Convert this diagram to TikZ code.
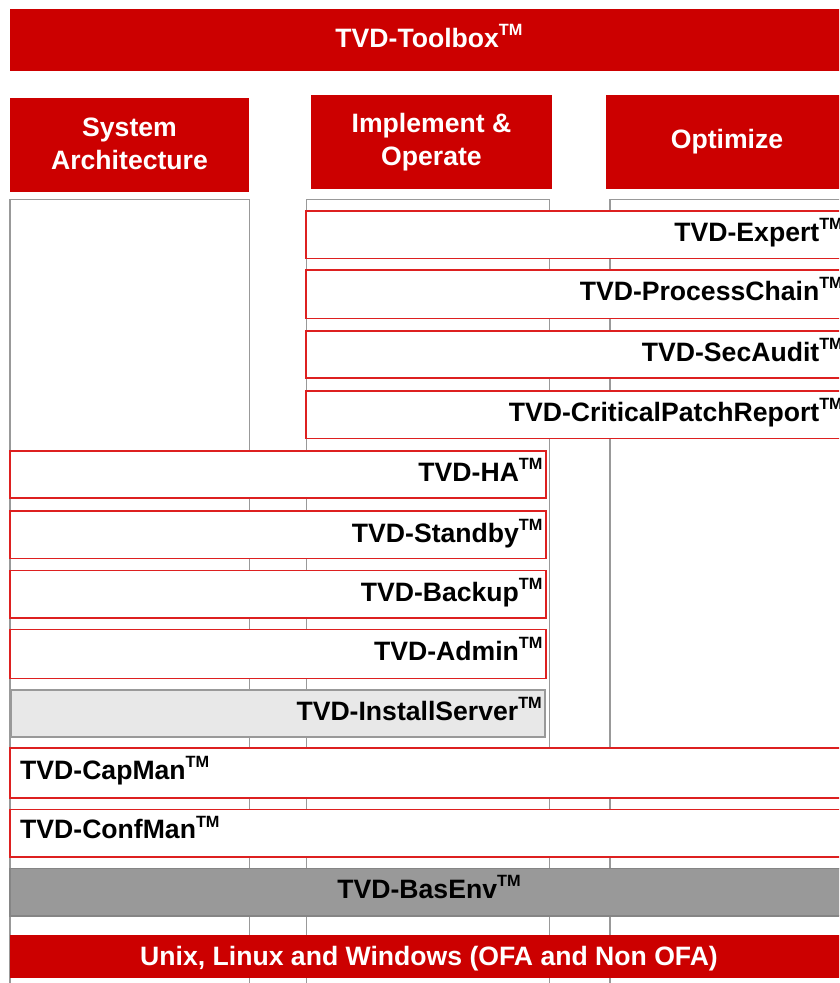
\documentclass[tikz,border=0pt]{standalone}
\usepackage{fontspec}
\setmainfont{Liberation Sans}
\usetikzlibrary{fit}
\definecolor{tvdred}{HTML}{CC0000}
\definecolor{rowred}{HTML}{DD2020}
\definecolor{colgrey}{HTML}{999999}
\definecolor{instfill}{HTML}{E8E8E8}
\definecolor{basfill}{HTML}{999999}
\definecolor{basline}{HTML}{858585}
\newcommand\tmk{\raisebox{11.8pt}{\fontsize{16.3}{16.3}\selectfont TM}}
\tikzset{
  bar/.style={fill=tvdred, draw=none, inner sep=0pt, outer sep=0pt},
  colbox/.style={fill=white, draw=colgrey, line width=1.5pt, inner sep=0pt, outer sep=0pt},
  rowbox/.style={fill=white, draw=rowred, line width=1.6pt, inner sep=0pt, outer sep=0pt},
  instbox/.style={fill=instfill, draw=colgrey, line width=1.6pt, inner sep=0pt, outer sep=0pt},
  basbox/.style={fill=basfill, draw=basline, line width=1.6pt, inner sep=0pt, outer sep=0pt},
  wtxt/.style={text=white, font=\fontsize{26.6}{32.5}\selectfont\bfseries, inner sep=0pt, align=center},
  btxt/.style={text=black, font=\fontsize{26.6}{32.5}\selectfont\bfseries, inner sep=0pt}
}
\begin{document}
\begin{tikzpicture}[x=1pt,y=-1pt]
\useasboundingbox (0,0) rectangle (839,983);
\clip (0,0) rectangle (839,983);
\fill[white] (0,0) rectangle (839,983);
% top bar
\node[bar, fit={(10,9) (848,71)}] (top) {};
\node[wtxt, anchor=base] (topT) at (429,47) {TVD-Toolbox\tmk};
% headers
\node[bar, fit={(10,98) (249,192)}] (hSys) {};
\node[wtxt] (hSysT) at ([yshift=1pt]hSys.center) {System\\Architecture};
\node[bar, fit={(311,95) (552,189)}] (hImp) {};
\node[wtxt] (hImpT) at (hImp.center) {Implement \&\\Operate};
\node[bar, fit={(606,95) (848,189)}] (hOpt) {};
\node[wtxt] (hOptT) at (hOpt.center) {Optimize};
% columns
\node[colbox, fit={(10,199.3) (249.3,1000)}] (col1) {};
\node[colbox, fit={(306.3,199.3) (549.3,1000)}] (col2) {};
\node[colbox, fit={(610,199.3) (845,1000)}] (col3) {};
% right rows
\node[rowbox, fit={(306,211) (846,258.3)}] (expert) {};
\node[btxt, anchor=base east] (expertT) at ([xshift=-3pt,yshift=-30.5pt]expert.north east) {TVD-Expert\tmk};
\node[rowbox, fit={(306,270) (846,318.3)}] (proc) {};
\node[btxt, anchor=base east] (procT) at ([xshift=-3pt,yshift=-30.5pt]proc.north east) {TVD-ProcessChain\tmk};
\node[rowbox, fit={(306,330.7) (846,377.7)}] (sec) {};
\node[btxt, anchor=base east] (secT) at ([xshift=-3pt,yshift=-30.5pt]sec.north east) {TVD-SecAudit\tmk};
\node[rowbox, fit={(306,391) (846,438.3)}] (crit) {};
\node[btxt, anchor=base east] (critT) at ([xshift=-3pt,yshift=-30.5pt]crit.north east) {TVD-CriticalPatchReport\tmk};
% left rows
\node[rowbox, fit={(10,450.7) (545.7,497.7)}] (ha) {};
\node[btxt, anchor=base east] (haT) at ([xshift=-3pt,yshift=-31pt]ha.north east) {TVD-HA\tmk};
\node[rowbox, fit={(10,511) (545.7,558.3)}] (stb) {};
\node[btxt, anchor=base east] (stbT) at ([xshift=-3pt,yshift=-31pt]stb.north east) {TVD-Standby\tmk};
\node[rowbox, fit={(10,570.3) (545.7,617.7)}] (bak) {};
\node[btxt, anchor=base east] (bakT) at ([xshift=-3pt,yshift=-31pt]bak.north east) {TVD-Backup\tmk};
\node[rowbox, fit={(10,629.3) (545.7,678.3)}] (adm) {};
\node[btxt, anchor=base east] (admT) at ([xshift=-3pt,yshift=-31pt]adm.north east) {TVD-Admin\tmk};
\node[instbox, fit={(11,690) (545,736.7)}] (inst) {};
\node[btxt, anchor=base east] (instT) at ([xshift=-3pt,yshift=-30pt]inst.north east) {TVD-InstallServer\tmk};
% full rows
\node[rowbox, fit={(10,747.7) (848,797.7)}] (cap) {};
\node[btxt, anchor=base west] (capT) at ([xshift=10pt,yshift=-32pt]cap.north west) {TVD-CapMan\tmk};
\node[rowbox, fit={(10,809.3) (848,856.7)}] (conf) {};
\node[btxt, anchor=base west] (confT) at ([xshift=10pt,yshift=-29.5pt]conf.north west) {TVD-ConfMan\tmk};
\node[basbox, fit={(10,868.3) (848,916)}] (bas) {};
\node[btxt, anchor=base] (basT) at (429,898) {TVD-BasEnv\tmk};
\node[bar, fit={(10,935) (848,977.7)}] (os) {};
\node[wtxt, anchor=base] (osT) at (429,965) {Unix, Linux and Windows (OFA and Non OFA)};
\end{tikzpicture}
\end{document}
